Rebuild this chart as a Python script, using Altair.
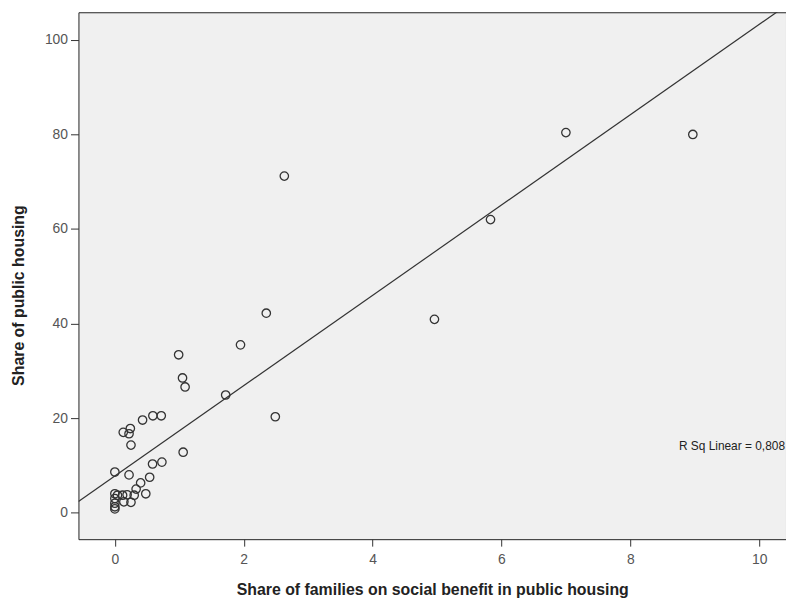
import altair as alt
import pandas as pd

# Values
benefit_share = [8.97, 7.00, 5.83, 4.96, 2.63, 2.35, 1.95, 0.99, 1.05, 1.09,
                 1.72, 2.49, 0.59, 0.72, 0.43, 0.13, 0.24, 0.22, 0.25, 1.06,
                 0.00, 0.22, 0.585, 0.73, 0.54, 0.40, 0.33, 0.48, 0.00, 0.00,
                 0.00, 0.00, 0.00, 0.04, 0.12, 0.19, 0.30, 0.25, 0.14]
public_share = [80.0, 80.4, 62.0, 40.9, 71.2, 42.2, 35.5, 33.4, 28.5, 26.6,
                24.9, 20.3, 20.5, 20.5, 19.6, 17.0, 17.8, 16.7, 14.3, 12.8,
                8.6, 8.0, 10.3, 10.7, 7.5, 6.3, 5.0, 4.0, 4.0, 3.0,
                2.0, 1.25, 0.8, 3.7, 3.7, 3.8, 3.7, 2.2, 2.3]

x_ticks = [0, 2, 4, 6, 8, 10]
y_ticks = [0, 20, 40, 60, 80, 100]
x_domain = [-0.565, 10.416]
y_domain = [-5.6, 105.85]

fit_intercept = 7.77
fit_slope = 9.55
r_sq_label = "R Sq Linear = 0,808"

df = pd.DataFrame({"x": benefit_share, "y": public_share})
line_df = pd.DataFrame({"x": x_domain})
label_df = pd.DataFrame({"x": [x_domain[1]], "y": [14.0], "t": [r_sq_label]})

font = "Liberation Sans"

xscale = alt.Scale(domain=x_domain, nice=False, zero=False)
yscale = alt.Scale(domain=y_domain, nice=False, zero=False)

xaxis = alt.Axis(values=x_ticks, format="d", title="Share of families on social benefit in public housing",
                 grid=False, domain=False, tickSize=7, tickColor="#333", tickWidth=1,
                 labelFont=font, labelFontSize=14, labelColor="#555", labelPadding=6,
                 titleFont=font, titleFontSize=16, titleFontWeight="bold", titleColor="#222",
                 titlePadding=16)
yaxis = alt.Axis(values=y_ticks, format="d", title="Share of public housing",
                 grid=False, domain=False, tickSize=8, tickColor="#333", tickWidth=1,
                 labelFont=font, labelFontSize=14, labelColor="#555", labelPadding=3,
                 titleFont=font, titleFontSize=16, titleFontWeight="bold", titleColor="#222",
                 titleX=-52, titleY=285, titleAlign="center")

points = alt.Chart(df).mark_point(shape="circle", filled=False, size=72,
                                  stroke="#333", strokeWidth=1.3, opacity=1).encode(
    x=alt.X("x:Q", scale=xscale, axis=xaxis),
    y=alt.Y("y:Q", scale=yscale, axis=yaxis),
)

line = alt.Chart(line_df).transform_calculate(
    y=f"{fit_intercept} + {fit_slope} * datum.x"
).mark_line(color="#333", strokeWidth=1.2, clip=True).encode(
    x=alt.X("x:Q", scale=xscale),
    y=alt.Y("y:Q", scale=yscale),
)

label = alt.Chart(label_df).mark_text(align="right", baseline="middle", font=font,
                                      fontSize=12, color="#222", dx=-1).encode(
    x=alt.X("x:Q", scale=xscale),
    y=alt.Y("y:Q", scale=yscale),
    text="t:N",
)

chart = alt.layer(line, points, label).properties(
    width=713, height=531,
    autosize=alt.AutoSizeParams(type="none"),
    padding={"left": 71, "top": 2, "right": 0, "bottom": 60},
    view=alt.ViewBackground(fill="#f0f0f0", fillOpacity=1, stroke="#222", strokeWidth=1),
).configure(background="white")

chart.save("out.html", embed_options={"renderer": "svg", "actions": False})
